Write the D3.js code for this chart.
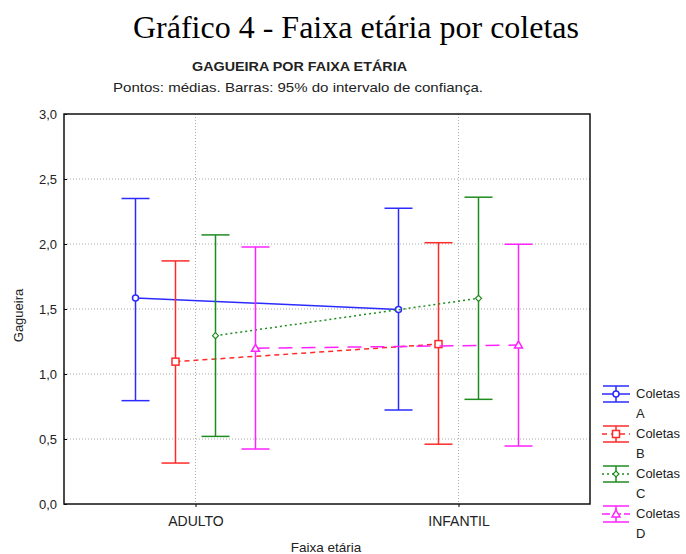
<!DOCTYPE html>
<meta charset="utf-8">
<script src="https://d3js.org/d3.v7.min.js"></script>
<style>
  body { margin: 0; background: #fff; }
  text { font-family: "Liberation Sans", Arial, sans-serif; }
</style>
<div id="chart"></div>
<script>

// categories and series
var groups = ["ADULTO", "INFANTIL"]
var series = ["A", "B", "C", "D"]

// means and 95% confidence limits, one value per group
var meansA = [1.585, 1.497]
var lowA   = [0.795, 0.723]
var highA  = [2.35, 2.275]

var meansB = [1.095, 1.23]
var lowB   = [0.315, 0.46]
var highB  = [1.87, 2.01]

var meansC = [1.295, 1.582]
var lowC   = [0.52, 0.805]
var highC  = [2.07, 2.36]

var meansD = [1.198, 1.223]
var lowD   = [0.423, 0.446]
var highD  = [1.977, 1.998]

var yTicks = [0, 0.5, 1, 1.5, 2, 2.5, 3]

var width = 686,
    height = 554
var margin = {top: 114, right: 96, bottom: 50, left: 64}

var colors = {A: "#2b2bff", B: "#ff2a2a", C: "#1f8c1f", D: "#ff22ff"}
var dashes = {A: null, B: "5,4", C: "2,3", D: "14,9"}

var svg = d3.select("#chart")
  .append("svg")
    .attr("width", width)
    .attr("height", height)

// titles
svg.append("text")
  .attr("x", 356).attr("y", 38)
  .attr("text-anchor", "middle")
  .style("font-family", "'Liberation Serif', 'Times New Roman', serif")
  .style("font-size", "32px")
  .text("Gráfico 4 - Faixa etária por coletas")

svg.append("text")
  .attr("x", 192).attr("y", 71)
  .attr("textLength", 215).attr("lengthAdjust", "spacingAndGlyphs")
  .style("font-size", "13px").style("font-weight", "bold")
  .attr("fill", "#222")
  .text("GAGUEIRA POR FAIXA ETÁRIA")

svg.append("text")
  .attr("x", 113).attr("y", 92)
  .attr("textLength", 370).attr("lengthAdjust", "spacingAndGlyphs")
  .style("font-size", "13px")
  .attr("fill", "#222")
  .text("Pontos: médias. Barras: 95% do intervalo de confiança.")

var x = d3.scalePoint()
  .domain(groups)
  .range([margin.left, width - margin.right])
  .padding(0.5)

var y = d3.scaleLinear()
  .domain([0, 3])
  .range([height - margin.bottom, margin.top])

var offset = d3.scalePoint()
  .domain(series)
  .range([-60, 60])

// grid
svg.append("g").selectAll("line")
  .data(yTicks.slice(1, -1))
  .enter().append("line")
    .attr("x1", margin.left).attr("x2", width - margin.right)
    .attr("y1", function(d) { return y(d) }).attr("y2", function(d) { return y(d) })
    .attr("stroke", "#aaa").attr("stroke-dasharray", "1,2")

svg.append("g").selectAll("line")
  .data(groups)
  .enter().append("line")
    .attr("x1", function(d) { return x(d) }).attr("x2", function(d) { return x(d) })
    .attr("y1", margin.top).attr("y2", height - margin.bottom)
    .attr("stroke", "#aaa").attr("stroke-dasharray", "1,2")

// axes
var yAxis = svg.append("g")
  .attr("transform", "translate(" + margin.left + ",0)")
  .call(d3.axisLeft(y).tickValues(yTicks).tickSize(-3).tickPadding(7)
    .tickFormat(function(d) { return d3.format(".1f")(d).replace(".", ",") }))
yAxis.select(".domain").remove()
yAxis.selectAll("text").style("font-size", "13px").attr("fill", "#222")

var xAxis = svg.append("g")
  .attr("transform", "translate(0," + (height - margin.bottom) + ")")
  .call(d3.axisBottom(x).tickSize(3).tickPadding(9))
xAxis.select(".domain").remove()
xAxis.selectAll("text").style("font-size", "14px").attr("fill", "#222")

// frame
svg.append("rect")
  .attr("x", margin.left).attr("y", margin.top)
  .attr("width", width - margin.left - margin.right)
  .attr("height", height - margin.top - margin.bottom)
  .attr("fill", "none").attr("stroke", "#111").attr("stroke-width", 1.5)

svg.append("text")
  .attr("transform", "translate(23," + y(1.45) + ") rotate(-90)")
  .attr("text-anchor", "middle")
  .style("font-size", "13px").attr("fill", "#222")
  .text("Gagueira")

svg.append("text")
  .attr("x", 326).attr("y", 552)
  .attr("text-anchor", "middle")
  .style("font-size", "13.5px").attr("fill", "#222")
  .text("Faixa etária")

// build records
var table = {
  A: {mean: meansA, low: lowA, high: highA},
  B: {mean: meansB, low: lowB, high: highB},
  C: {mean: meansC, low: lowC, high: highC},
  D: {mean: meansD, low: lowD, high: highD}
}

function marker(g, s, cx, cy, c) {
  if (s == "A") {
    g.append("circle").attr("cx", cx).attr("cy", cy).attr("r", 3)
      .attr("fill", "#fff").attr("stroke", c).attr("stroke-width", 1.5)
  } else if (s == "B") {
    g.append("rect").attr("x", cx - 3.5).attr("y", cy - 3.5).attr("width", 7).attr("height", 7)
      .attr("fill", "#fff").attr("stroke", c).attr("stroke-width", 1.5)
  } else if (s == "C") {
    g.append("path").attr("d", "M" + cx + "," + (cy - 3) + "L" + (cx + 3) + "," + cy + "L" + cx + "," + (cy + 3) + "L" + (cx - 3) + "," + cy + "Z")
      .attr("fill", "#fff").attr("stroke", c).attr("stroke-width", 1.2)
  } else {
    g.append("path").attr("d", "M" + cx + "," + (cy - 4) + "L" + (cx + 4) + "," + (cy + 3) + "L" + (cx - 4) + "," + (cy + 3) + "Z")
      .attr("fill", "#fff").attr("stroke", c).attr("stroke-width", 1.5)
  }
}

series.forEach(function(s) {
  var d = table[s], c = colors[s]
  var g = svg.append("g")
  var pts = groups.map(function(gr, i) {
    return [x(gr) + offset(s), y(d.mean[i])]
  })
  // connecting line
  g.append("path")
    .attr("d", d3.line()(pts))
    .attr("fill", "none").attr("stroke", c).attr("stroke-width", 1.5)
    .attr("stroke-dasharray", dashes[s])
  groups.forEach(function(gr, i) {
    var cx = x(gr) + offset(s)
    g.append("line").attr("x1", cx).attr("x2", cx)
      .attr("y1", y(d.low[i])).attr("y2", y(d.high[i]))
      .attr("stroke", c).attr("stroke-width", 1.5)
    ;[d.low[i], d.high[i]].forEach(function(v) {
      g.append("line").attr("x1", cx - 14).attr("x2", cx + 14)
        .attr("y1", y(v)).attr("y2", y(v))
        .attr("stroke", c).attr("stroke-width", 1.5)
    })
    marker(g, s, cx, y(d.mean[i]), c)
  })
})

// legend
var leg = svg.append("g")
series.forEach(function(s, i) {
  var cy = 394 + i * 40, c = colors[s]
  var lx = 616
  leg.append("line").attr("x1", 602).attr("x2", 630).attr("y1", cy).attr("y2", cy)
    .attr("stroke", c).attr("stroke-width", 1.5).attr("stroke-dasharray", dashes[s] ? (s == "D" ? "8,3" : dashes[s]) : null)
  leg.append("line").attr("x1", 603).attr("x2", 629).attr("y1", cy - 8).attr("y2", cy - 8)
    .attr("stroke", c).attr("stroke-width", 1.5)
  leg.append("line").attr("x1", 603).attr("x2", 629).attr("y1", cy + 8).attr("y2", cy + 8)
    .attr("stroke", c).attr("stroke-width", 1.5)
  leg.append("line").attr("x1", lx).attr("x2", lx).attr("y1", cy - 8).attr("y2", cy + 8)
    .attr("stroke", c).attr("stroke-width", 1.5)
  marker(leg, s, lx, cy, c)
  leg.append("text").attr("x", 636).attr("y", cy + 4)
    .style("font-size", "13px").attr("fill", "#222").text("Coletas")
  leg.append("text").attr("x", 636).attr("y", cy + 24)
    .style("font-size", "13px").attr("fill", "#222").text(s)
})

</script>
